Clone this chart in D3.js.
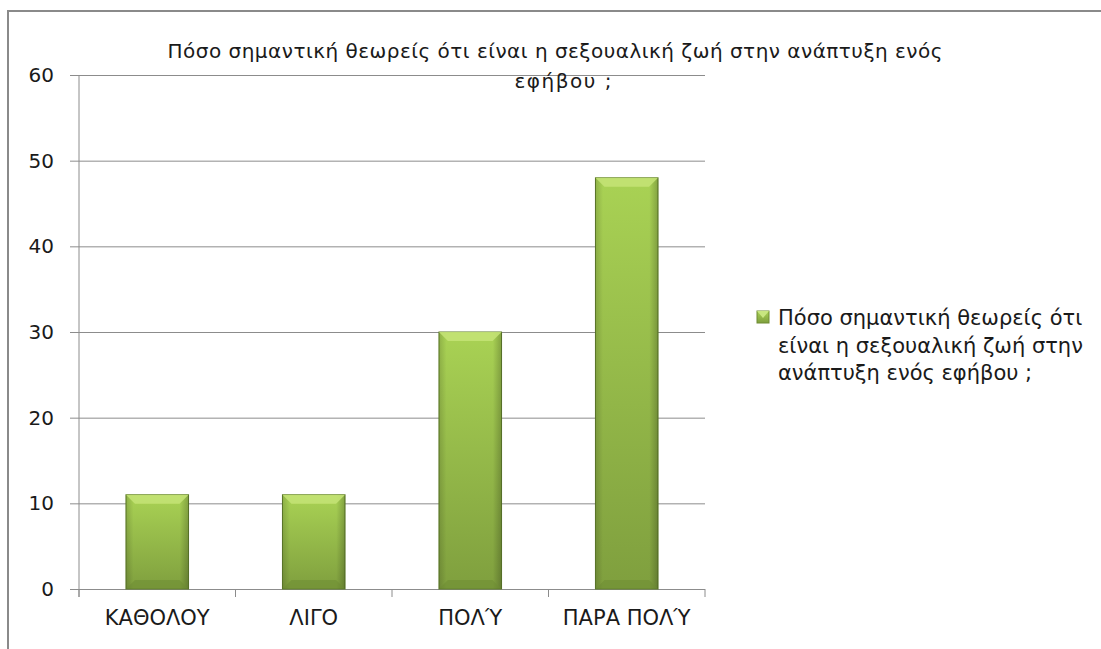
<!DOCTYPE html>
<html>
<head>
<meta charset="utf-8">
<script src="https://cdn.jsdelivr.net/npm/d3@7"></script>
<style>
  body { margin: 0; background: #fff; }
  text { font-family: "DejaVu Sans", "Noto Sans", sans-serif; fill: #1a1a1a; }
</style>
</head>
<body>
<div id="chart"></div>
<script>
const categories = ["ΚΑΘΟΛΟΥ", "ΛΙΓΟ", "ΠΟΛΎ", "ΠΑΡΑ ΠΟΛΎ"];
const values = [11, 11, 30, 48];
const yTicks = [0, 10, 20, 30, 40, 50, 60];
const titleLines = ["Πόσο σημαντική θεωρείς ότι είναι η σεξουαλική ζωή στην ανάπτυξη ενός", "εφήβου ;"];
const legendLines = ["Πόσο σημαντική θεωρείς ότι", "είναι η σεξουαλική ζωή στην", "ανάπτυξη ενός εφήβου ;"];

const width = 1101;
const height = 649;
const plot = { left: 79, right: 705, top: 75, bottom: 589 };

const svg = d3.select('#chart')
  .append('svg')
  .attr('width', width)
  .attr('height', height)

// gradients
const defs = svg.append('defs');
const grad = defs.append('linearGradient')
  .attr('id', 'barGrad')
  .attr('x1', 0).attr('y1', 0).attr('x2', 0).attr('y2', 1)
grad.append('stop').attr('offset', '0%').attr('stop-color', '#a9d254')
grad.append('stop').attr('offset', '100%').attr('stop-color', '#7f9f3e')

const sideGrad = defs.append('linearGradient')
  .attr('id', 'sideGrad')
  .attr('x1', 0).attr('y1', 0).attr('x2', 1).attr('y2', 0)
sideGrad.append('stop').attr('offset', '0%').attr('stop-color', '#000').attr('stop-opacity', 0.15)
sideGrad.append('stop').attr('offset', '12%').attr('stop-color', '#000').attr('stop-opacity', 0)
sideGrad.append('stop').attr('offset', '86%').attr('stop-color', '#000').attr('stop-opacity', 0)
sideGrad.append('stop').attr('offset', '100%').attr('stop-color', '#000').attr('stop-opacity', 0.22)

// outer frame
svg.append('rect')
  .attr('x', 8)
  .attr('y', 11)
  .attr('width', width + 20)
  .attr('height', height + 20)
  .attr('fill', 'none')
  .attr('stroke', '#8a8a8a')
  .attr('stroke-width', 2)

const xScale = d3.scaleBand()
  .domain(categories)
  .range([plot.left, plot.right])
  .paddingInner(0.6)
  .paddingOuter(0.3)

const xBand = d3.scaleBand()
  .domain(categories)
  .range([plot.left, plot.right])

const yScale = d3.scaleLinear()
  .domain([0, 60])
  .range([plot.bottom, plot.top])

// gridlines + y axis
const yAxis = d3.axisLeft(yScale)
  .tickValues(yTicks)
  .tickSize(plot.right - plot.left + 9)

const gy = svg.append('g')
  .attr('id', 'y-axis')
  .attr('transform', `translate(${plot.right}, 0)`)
  .call(yAxis)
gy.select('.domain').remove()
gy.selectAll('line').attr('stroke', '#8c8c8c')
gy.selectAll('text')
  .attr('font-size', 20)
  .attr('font-family', '"DejaVu Sans", sans-serif')
  .style('fill', '#1a1a1a')
  .attr('x', -(plot.right - 54))
  .attr('text-anchor', 'end')

svg.append('line')
  .attr('x1', plot.left).attr('x2', plot.left)
  .attr('y1', plot.top).attr('y2', plot.bottom + 8)
  .attr('stroke', '#8c8c8c')

// x axis tick marks at band boundaries
const bounds = [plot.left].concat(categories.map(c => xBand(c) + xBand.bandwidth()))
svg.append('g')
  .selectAll('line')
  .data(bounds)
  .enter()
  .append('line')
  .attr('x1', d => d).attr('x2', d => d)
  .attr('y1', plot.bottom).attr('y2', plot.bottom + 8)
  .attr('stroke', '#8c8c8c')

svg.append('g')
  .selectAll('text')
  .data(categories)
  .enter()
  .append('text')
  .attr('x', d => xBand(d) + xBand.bandwidth() / 2)
  .attr('y', 625)
  .attr('text-anchor', 'middle')
  .attr('font-size', 21)
  .text(d => d)

// bars
const bars = svg.append('g')
  .selectAll('g')
  .data(values)
  .enter()
  .append('g')

const bev = 9;
bars.append('rect')
  .attr('x', (d, i) => xScale(categories[i]))
  .attr('y', d => yScale(d))
  .attr('width', xScale.bandwidth())
  .attr('height', d => yScale(0) - yScale(d))
  .attr('fill', 'url(#barGrad)')
  .attr('stroke', '#5d7a28')
  .attr('stroke-width', 1)

bars.append('rect')
  .attr('x', (d, i) => xScale(categories[i]))
  .attr('y', d => yScale(d))
  .attr('width', xScale.bandwidth())
  .attr('height', d => yScale(0) - yScale(d))
  .attr('fill', 'url(#sideGrad)')

// top bevel
bars.append('path')
  .attr('d', (d, i) => {
    const x0 = xScale(categories[i]), x1 = x0 + xScale.bandwidth(), y0 = yScale(d);
    return `M${x0},${y0}L${x1},${y0}L${x1 - bev},${y0 + bev}L${x0 + bev},${y0 + bev}Z`;
  })
  .attr('fill', '#c3e274')
  .attr('opacity', 0.9)

// bottom bevel
bars.append('path')
  .attr('d', (d, i) => {
    const x0 = xScale(categories[i]), x1 = x0 + xScale.bandwidth(), y0 = yScale(0);
    return `M${x0},${y0}L${x1},${y0}L${x1 - bev},${y0 - bev}L${x0 + bev},${y0 - bev}Z`;
  })
  .attr('fill', '#6e8c33')
  .attr('opacity', 0.55)

// title
const titleWidths = [775, 97];
svg.append('g')
  .selectAll('text')
  .data(titleLines)
  .enter()
  .append('text')
  .attr('x', (d, i) => i === 0 ? 555 : 563)
  .attr('y', (d, i) => 58 + i * 30)
  .attr('text-anchor', 'middle')
  .attr('font-size', 20)
  .attr('textLength', (d, i) => titleWidths[i])
  .attr('lengthAdjust', 'spacing')
  .text(d => d)

// legend
const legend = svg.append('g').attr('id', 'legend')
legend.append('rect')
  .attr('x', 757)
  .attr('y', 311)
  .attr('width', 12)
  .attr('height', 12)
  .attr('fill', 'url(#barGrad)')
  .attr('stroke', '#6e8c33')
legend.append('path')
  .attr('d', 'M757,311L769,311L763,318Z')
  .attr('fill', '#c8e680')
legend.selectAll('text')
  .data(legendLines)
  .enter()
  .append('text')
  .attr('x', 778)
  .attr('y', (d, i) => 325 + i * 27.5)
  .attr('font-size', 21)
  .text(d => d)
</script>
</body>
</html>
